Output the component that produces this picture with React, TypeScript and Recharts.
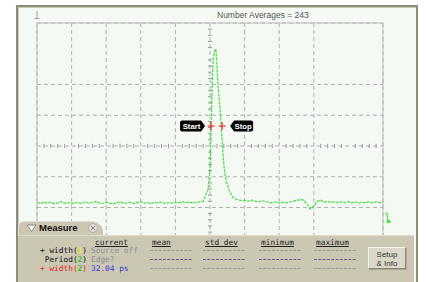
import React from "react";
import {
  LineChart,
  Line,
  XAxis,
  YAxis,
  CartesianGrid,
  ReferenceLine,
  ReferenceDot,
  ReferenceArea,
} from "recharts";

// time in ps (100 ps/div), amplitude in screen divisions
const SAMPLE_STEP = 10;
const LEFT_START = 0;
const LEFT_VALUES = [
  -1.84, -1.87, -1.82, -1.86, -1.83, -1.88, -1.85, -1.81, -1.86, -1.84,
  -1.88, -1.83, -1.85, -1.87, -1.82, -1.86, -1.84, -1.8, -1.85, -1.87,
  -1.83, -1.86, -1.88, -1.84, -1.82, -1.86, -1.85, -1.83, -1.87, -1.84,
  -1.81, -1.86, -1.84, -1.88, -1.83, -1.85, -1.82, -1.87, -1.84, -1.86,
  -1.83, -1.85, -1.81, -1.84, -1.82, -1.85, -1.83, -1.82,
];
const PULSE_T = [480, 486, 494, 500, 503, 506, 509, 514, 517, 520, 523, 528, 532, 536, 540, 546, 555, 566, 577, 588];
const PULSE_V = [-1.8, -1.63, -1.43, -0.78, 0.52, 1.82, 2.8, 3.12, 3.15, 2.63, 1.98, 1.35, 0.7, 0.03, -0.62, -1.11, -1.43, -1.66, -1.74, -1.77];
const RIGHT_START = 600;
const RIGHT_VALUES = [
  -1.77, -1.8, -1.76, -1.79, -1.82, -1.78, -1.8, -1.83, -1.85, -1.82,
  -1.86, -1.83, -1.85, -1.82, -1.8, -1.77, -1.74, -1.76, -1.88, -2.05,
  -1.95, -1.8, -1.76, -1.83, -1.8, -1.84, -1.81, -1.85, -1.82, -1.84,
  -1.81, -1.85, -1.82, -1.86, -1.83, -1.84, -1.81, -1.85, -1.82, -1.84,
  -1.83,
];

const X_TICKS = [0, 100, 200, 300, 400, 500, 600, 700, 800, 900, 1000];
const Y_TICKS = [-4, -3, -2, -1, 0, 1, 2, 3, 4];
const CENTER_T = 500;
const MINOR_T = Array.from({ length: 51 }, (_, i) => i * 20).filter((t) => t % 100 !== 0);
const MINOR_V = Array.from({ length: 41 }, (_, i) => -4 + i * 0.2).filter((v) => Math.abs(v - Math.round(v)) > 0.01);

const MARKER_T = [503, 535];
const MARKER_LABELS = ["Start", "Stop"];
const MARKER_LEVEL = 0.65;

const TITLE = "Number Averages = 243";
const MEASURE_COLUMNS = ["current", "mean", "std dev", "minimum", "maximum"];
const COLUMN_X = [95, 152, 205, 261, 316];
const ROW_LABELS = ["width(", "Period(", "width("];
const ROW_SOURCES = ["1", "2", "2"];
const ROW_CURRENT = ["Source off", "Edge?", "32.04 ps"];

const trace = [
  ...LEFT_VALUES.map((v, i) => ({ t: LEFT_START + i * SAMPLE_STEP, v })),
  ...PULSE_T.map((t, i) => ({ t, v: PULSE_V[i] })),
  ...RIGHT_VALUES.map((v, i) => ({ t: RIGHT_START + i * SAMPLE_STEP, v })),
];

const GREEN = "#48de44";
const PANEL = "#cbc7b3";
const FRAME = "#8e8b77";
const MONO = "'DejaVu Sans Mono', monospace";
const SANS = "'Liberation Sans', Arial, sans-serif";

function MarkerShape(props: any) {
  const { cx, cy, label } = props;
  const isStart = label === "Start";
  const tag = isStart
    ? `M${cx - 6},${cy} L${cx - 10},${cy - 5.5} L${cx - 29},${cy - 5.5} Q${cx - 31},${cy - 5.5} ${cx - 31},${cy - 3.5} L${cx - 31},${cy + 3.5} Q${cx - 31},${cy + 5.5} ${cx - 29},${cy + 5.5} L${cx - 10},${cy + 5.5} Z`
    : `M${cx + 8},${cy} L${cx + 12},${cy - 5.5} L${cx + 29},${cy - 5.5} Q${cx + 31},${cy - 5.5} ${cx + 31},${cy - 3.5} L${cx + 31},${cy + 3.5} Q${cx + 31},${cy + 5.5} ${cx + 29},${cy + 5.5} L${cx + 12},${cy + 5.5} Z`;
  return (
    <g>
      <path d={tag} fill="#000" />
      <text
        x={isStart ? cx - 19.5 : cx + 21}
        y={cy + 2.8}
        textAnchor="middle"
        fontSize={7.8}
        fontFamily={SANS}
        fontWeight="bold"
        fill="#fff"
      >
        {label}
      </text>
      <line x1={cx - 3.5} y1={cy} x2={cx + 3.5} y2={cy} stroke="#e83030" strokeWidth={1.2} />
      <line x1={cx} y1={cy - 4} x2={cx} y2={cy + 4} stroke="#e83030" strokeWidth={1.2} />
    </g>
  );
}

function Dashes({ x, y, color }: { x: number; y: number; color: string }) {
  return (
    <svg style={{ position: "absolute", left: x, top: y - 1, width: 42, height: 3 }}>
      <line x1={0} y1={1.5} x2={42} y2={1.5} stroke={color} strokeWidth={1} strokeDasharray="3 1.3" />
    </svg>
  );
}

function MeasurePanel() {
  const rowY = [250, 259, 268];
  const txt = (extra: React.CSSProperties): React.CSSProperties => ({
    position: "absolute",
    fontFamily: MONO,
    fontSize: 7.8,
    lineHeight: "9px",
    whiteSpace: "pre",
    ...extra,
  });
  return (
    <>
      <div
        style={{
          position: "absolute",
          left: 18,
          top: 221,
          width: 84,
          height: 18,
          background: PANEL,
          borderRadius: "6px 11px 0 0",
          borderTop: "1px solid #e2dfd0",
          borderLeft: "1px solid #e2dfd0",
        }}
      />
      <div
        style={{
          position: "absolute",
          left: 18,
          top: 235,
          width: 396,
          height: 60,
          background: PANEL,
          borderTop: "1px solid #dedbcb",
        }}
      />
      <svg style={{ position: "absolute", left: 26, top: 224, width: 12, height: 9 }}>
        <polygon points="1,1 10,1 5.5,7.5" fill="#f4f4f0" stroke="#7a7a74" strokeWidth={0.8} />
      </svg>
      <div
        style={{
          position: "absolute",
          left: 39,
          top: 222,
          fontFamily: SANS,
          fontWeight: "bold",
          fontSize: 9.5,
          lineHeight: "12px",
          color: "#111",
        }}
      >
        Measure
      </div>
      <svg style={{ position: "absolute", left: 88, top: 223, width: 10, height: 10 }}>
        <circle cx={5} cy={5} r={4.3} fill="#e6e4da" stroke="#9a988c" strokeWidth={0.6} />
        <line x1={2.8} y1={2.8} x2={7.2} y2={7.2} stroke="#777" strokeWidth={1} />
        <line x1={7.2} y1={2.8} x2={2.8} y2={7.2} stroke="#777" strokeWidth={1} />
      </svg>
      {MEASURE_COLUMNS.map((c, i) => (
        <div key={c} style={txt({ left: COLUMN_X[i], top: 237.5, color: "#222", textDecoration: "underline" })}>
          {c}
        </div>
      ))}
      {ROW_LABELS.map((lab, i) => {
        const red = i === 2;
        const main = red ? "#e82828" : "#111";
        const srcColor = ROW_SOURCES[i] === "1" ? "#f2ea00" : "#2cc82c";
        return (
          <div key={i} style={txt({ left: 20, width: 67, top: rowY[i] - 4.5, textAlign: "right", color: main })}>
            {i !== 1 ? "+ " : ""}
            {lab}
            <span style={{ color: srcColor, fontWeight: "bold" }}>{ROW_SOURCES[i]}</span>)
          </div>
        );
      })}
      {ROW_CURRENT.map((v, i) => (
        <div key={v} style={txt({ left: 91, top: rowY[i] - 4.5, color: i === 2 ? "#3a3ae0" : "#8c8c98" })}>
          {v}
        </div>
      ))}
      {rowY.map((y, i) =>
        COLUMN_X.slice(1).map((cx) => (
          <Dashes key={`${i}-${cx}`} x={cx - 2} y={y} color={i === 1 ? "#5e6688" : "#9a9a9a"} />
        ))
      )}
      <div
        style={{
          position: "absolute",
          left: 368,
          top: 247,
          width: 38,
          height: 22,
          background: "#dbd8ca",
          borderTop: "1px solid #f4f2ea",
          borderLeft: "1px solid #f4f2ea",
          borderRight: "1px solid #8a8776",
          borderBottom: "1px solid #8a8776",
          boxShadow: "1px 1px 0 #a9a692",
          fontFamily: SANS,
          fontSize: 8,
          lineHeight: "9px",
          color: "#333",
          textAlign: "center",
          paddingTop: 2,
          boxSizing: "border-box",
        }}
      >
        Setup
        <br />& Info
      </div>
    </>
  );
}

export default function App() {
  return (
    <div
      style={{
        position: "absolute",
        left: 0,
        top: 0,
        width: 426,
        height: 282,
        background: "#fff",
        overflow: "hidden",
      }}
    >
      <div
        style={{
          position: "absolute",
          left: 16,
          top: 5,
          width: 402,
          height: 300,
          boxSizing: "border-box",
          border: `2px solid ${FRAME}`,
          boxShadow: "inset 1px 1px 0 #c9c7b8",
          background: "#f4f9f4",
        }}
      />
      <div
        style={{
          position: "absolute",
          left: 217,
          top: 9,
          fontFamily: SANS,
          fontSize: 8.5,
          lineHeight: "12px",
          color: "#555",
          whiteSpace: "pre",
        }}
      >
        {TITLE}
      </div>
      <svg style={{ position: "absolute", left: 33, top: 10, width: 9, height: 12 }}>
        <line x1={4} y1={1} x2={4} y2={9} stroke="#9c9c9c" strokeWidth={1} />
        <line x1={1.5} y1={8.5} x2={6.5} y2={8.5} stroke="#9c9c9c" strokeWidth={1} />
      </svg>
      <div style={{ position: "absolute", left: 36, top: 22 }}>
        <LineChart width={348} height={248} data={trace} margin={{ top: 1, right: 1, bottom: 1, left: 1 }}>
          <XAxis dataKey="t" type="number" domain={[0, 1000]} ticks={X_TICKS} hide />
          <YAxis type="number" domain={[-4, 4]} ticks={Y_TICKS} hide />
          <CartesianGrid stroke="#b0b0b0" strokeDasharray="4 3" />
          <ReferenceArea x1={0} x2={1000} y1={-4} y2={4} fill="none" stroke="#bcbcbc" strokeWidth={1} />
          {MINOR_T.map((t) => (
            <ReferenceLine
              key={`mt${t}`}
              segment={[
                { x: t, y: -0.07 },
                { x: t, y: 0.07 },
              ]}
              stroke="#9a9a9a"
            />
          ))}
          {MINOR_V.map((v) => (
            <ReferenceLine
              key={`mv${v.toFixed(1)}`}
              segment={[
                { x: CENTER_T - 6, y: v },
                { x: CENTER_T + 6, y: v },
              ]}
              stroke="#9a9a9a"
            />
          ))}
          <Line
            dataKey="v"
            type="linear"
            stroke={GREEN}
            strokeWidth={1.2}
            strokeDasharray="3 1"
            dot={false}
            isAnimationActive={false}
          />
          {MARKER_T.map((t, i) => (
            <ReferenceDot
              key={MARKER_LABELS[i]}
              x={t}
              y={MARKER_LEVEL}
              r={0}
              shape={(p: any) => <MarkerShape {...p} label={MARKER_LABELS[i]} />}
            />
          ))}
        </LineChart>
      </div>
      <svg style={{ position: "absolute", left: 383, top: 210, width: 12, height: 16 }}>
        <polyline points="2,3 4,3.5 5,11" fill="none" stroke={GREEN} strokeWidth={1.2} />
        <line x1={3} y1={12} x2={8} y2={12} stroke={GREEN} strokeWidth={1.2} />
        <polygon points="3.5,10 7.5,10 5.5,13.5" fill={GREEN} />
      </svg>
      <MeasurePanel />
    </div>
  );
}
